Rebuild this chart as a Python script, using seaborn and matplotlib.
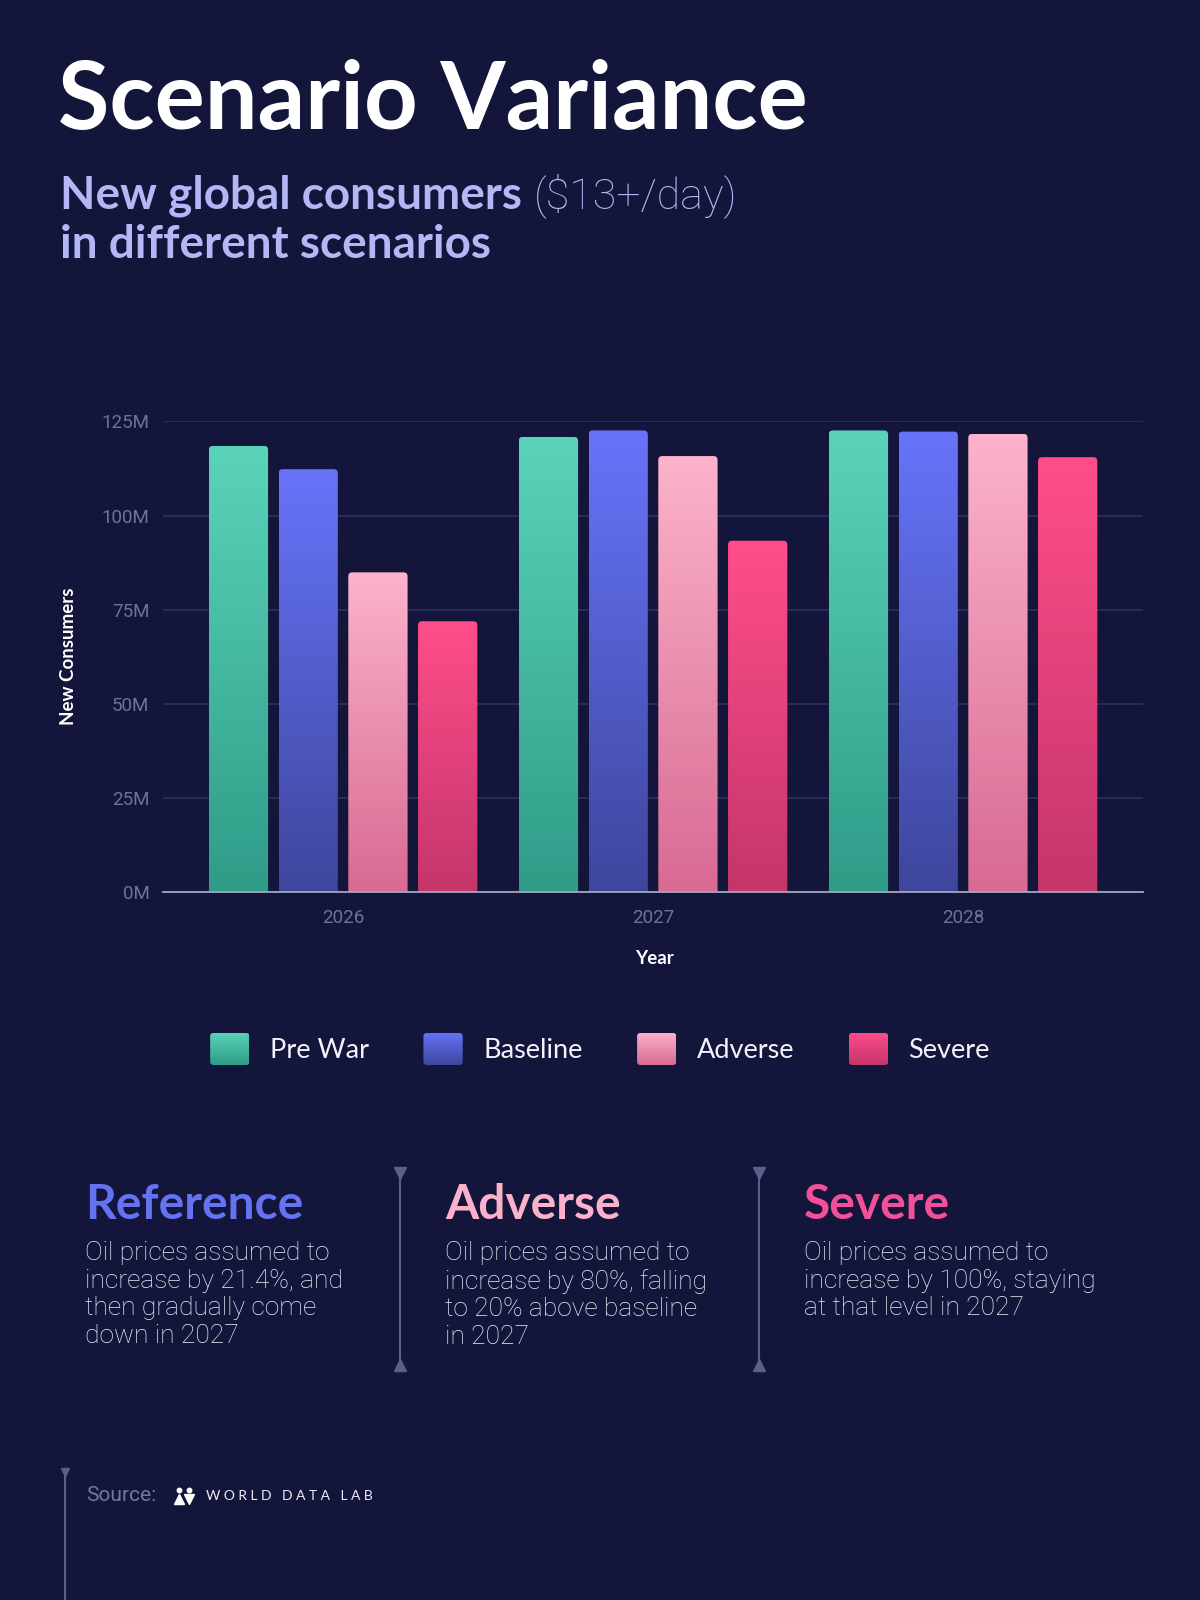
import numpy as np
import pandas as pd
import seaborn as sns
import matplotlib.pyplot as plt
from matplotlib.patches import FancyBboxPatch, Patch
from matplotlib.lines import Line2D
from matplotlib.colors import to_rgb

years = ['2026', '2027', '2028']
scenarios = ['Pre War', 'Baseline', 'Adverse', 'Severe']
pre_war = [118.5, 120.9, 122.6]
baseline = [112.3, 122.6, 122.3]
adverse = [84.9, 115.8, 121.7]
severe = [71.9, 93.3, 115.5]
y_ticks = [0, 25, 50, 75, 100, 125]

top_colors = ['#5BD3BA', '#6774FA', '#FCB3CB', '#FF4D8B']
bottom_colors = ['#2F9C88', '#3E469C', '#D86A93', '#C4366A']
mid_colors = ['#46B8A1', '#535DCB', '#EA90B0', '#E2427A']

BG = '#13163A'
GRID = '#2C3060'
TICK = '#6E7299'
SEP = '#5B5F8A'
LIGHT = ['Roboto', 'Lato', 'DejaVu Sans']

# layout was measured on a 1176 x 1568 view of the reference
W, H = 1176, 1568


def fx(x):
    return x / W


def fy(y):
    return 1 - y / H


df = pd.DataFrame({
    'Year': np.repeat(years, 4),
    'Scenario': scenarios * 3,
    'Consumers': [v for trio in zip(pre_war, baseline, adverse, severe) for v in trio],
})

sns.set_style('dark')
plt.rcParams['font.family'] = ['Lato', 'DejaVu Sans']

fig = plt.figure(figsize=(12, 16), dpi=100)
fig.patch.set_facecolor(BG)
ax = fig.add_axes([fx(160), fy(874), 960 / W, 461 / H])
ax.set_facecolor(BG)

sns.barplot(data=df, x='Year', y='Consumers', hue='Scenario', hue_order=scenarios,
            palette=mid_colors, width=0.9, gap=0.15, saturation=1, legend=False, ax=ax)


def gradient(top, bottom, n=256):
    t = np.linspace(0, 1, n)[:, None]
    c1, c2 = np.array(to_rgb(top)), np.array(to_rgb(bottom))
    return (c1 * (1 - t) + c2 * t)[:, None, :]


# swap the flat bars for vertical gradients with rounded tops
for bar in list(ax.patches):
    x0, w, h = bar.get_x(), bar.get_width(), bar.get_height()
    cx = x0 + w / 2
    k = int(round((cx - round(cx) + 0.3375) / 0.225))
    bar.set_visible(False)
    img = ax.imshow(gradient(top_colors[k], bottom_colors[k]), extent=[x0, x0 + w, 0, h],
                    aspect='auto', origin='upper', zorder=3, interpolation='bilinear')
    clip = FancyBboxPatch((x0, -4), w, h + 4, boxstyle='round,pad=0,rounding_size=0.013',
                          mutation_aspect=82, transform=ax.transData, facecolor='none',
                          edgecolor='none')
    ax.add_patch(clip)
    img.set_clip_path(clip)

ax.set_xlim(-0.58, 2.58)
ax.set_ylim(0, 125)
ax.set_yticks(y_ticks)
ax.set_yticklabels([f'{v}M' for v in y_ticks])
ax.grid(axis='y', color=GRID, linewidth=1.2)
ax.grid(axis='x', visible=False)
ax.set_axisbelow(True)
for s in ['top', 'left', 'right']:
    ax.spines[s].set_visible(False)
ax.spines['bottom'].set_color('#A3A6C2')
ax.spines['bottom'].set_linewidth(1.3)
ax.spines['bottom'].set_zorder(5)
ax.tick_params(axis='both', length=0, colors=TICK, labelsize=13.5)
ax.tick_params(axis='y', pad=10)
ax.tick_params(axis='x', pad=12)
for lab in ax.get_xticklabels() + ax.get_yticklabels():
    lab.set_family(LIGHT)
ax.set_xlabel('Year', color='white', fontsize=13.5, fontweight='bold')
ax.set_ylabel('New Consumers', color='white', fontsize=13.5, fontweight='bold')
ax.xaxis.set_label_coords(0.501, -0.124)
ax.yaxis.set_label_coords(-0.088, 0.5)

# legend
handles = [Patch(facecolor=c, edgecolor='none') for c in mid_colors]
leg = fig.legend(handles, scenarios, loc='center', bbox_to_anchor=(fx(588), fy(1028)),
                 ncol=4, frameon=False, fontsize=19.5, handlelength=1.45, handleheight=1.45,
                 handletextpad=0.75, columnspacing=2.02, labelcolor='#F2F2FA')

# titles
fig.text(fx(57), fy(100), 'Scenario Variance', color='white', fontsize=67.5,
         fontweight='bold', va='center', ha='left')
sub_color = '#B4B7F6'
t1 = fig.text(fx(59), fy(192), 'New global consumers', color=sub_color,
              fontsize=33, fontweight='bold', va='center', ha='left')
fig.text(fx(59), fy(240), 'in different scenarios', color=sub_color,
         fontsize=33, fontweight='bold', va='center', ha='left')

fig.canvas.draw()
r = fig.canvas.get_renderer()
bb = t1.get_window_extent(r)
fig.text((bb.x1 + 12) / 1200, fy(192), '($13+/day)', color=sub_color,
         fontsize=31, fontweight='light', family=LIGHT, va='center', ha='left')

# gradient squares over the legend handles
for k, patch in enumerate(leg.get_patches()):
    pb = patch.get_window_extent(r)
    hax = fig.add_axes([pb.x0 / 1200, pb.y0 / 1600, pb.width / 1200, pb.height / 1600])
    hax.set_axis_off()
    im = hax.imshow(gradient(top_colors[k], bottom_colors[k]), extent=[0, 1, 0, 1],
                    aspect='auto', origin='upper')
    hclip = FancyBboxPatch((0, 0), 1, 1, boxstyle='round,pad=0,rounding_size=0.1',
                           transform=hax.transAxes, facecolor='none', edgecolor='none')
    hax.add_patch(hclip)
    im.set_clip_path(hclip)
    hax.set_xlim(0, 1)
    hax.set_ylim(0, 1)
    patch.set_alpha(0)

# scenario notes
notes = [
    ('Reference', '#6572F2', 'Oil prices assumed to\nincrease by 21.4%, and\nthen gradually come\ndown in 2027'),
    ('Adverse', '#FBB1CB', 'Oil prices assumed to\nincrease by 80%, falling\nto 20% above baseline\nin 2027'),
    ('Severe', '#F2519A', 'Oil prices assumed to\nincrease by 100%, staying\nat that level in 2027'),
]
for (head, col, body), x in zip(notes, [83, 436, 788]):
    fig.text(fx(x), fy(1181), head, color=col, fontsize=34.5, fontweight='bold',
             va='center', ha='left')
    fig.text(fx(x), fy(1216), body, color='#ECEDF7', fontsize=19, fontweight='light',
             family=LIGHT, va='top', ha='left', linespacing=1.2)

for x in [392, 744]:
    fig.add_artist(Line2D([fx(x), fx(x)], [fy(1148), fy(1340)],
                          color=SEP, lw=1.5, transform=fig.transFigure))
    fig.add_artist(Line2D([fx(x)], [fy(1150)], marker='v', markersize=8, color=SEP,
                          lw=0, transform=fig.transFigure))
    fig.add_artist(Line2D([fx(x)], [fy(1338)], marker='^', markersize=8, color=SEP,
                          lw=0, transform=fig.transFigure))

fig.add_artist(Line2D([fx(64), fx(64)], [fy(1442), 0], color=SEP, lw=1.5,
                      transform=fig.transFigure))
fig.add_artist(Line2D([fx(64)], [fy(1443)], marker='v', markersize=6, color=SEP,
                      lw=0, transform=fig.transFigure))

# source line
fig.text(fx(84), fy(1466), 'Source:', color='#7276A0', fontsize=15, family=LIGHT,
         va='center', ha='left')
for lx, mk in [(175, '^'), (185, 'v')]:
    fig.add_artist(Line2D([fx(lx)], [fy(1469)], marker=mk, markersize=7.5, color='white',
                          lw=0, transform=fig.transFigure))
    fig.add_artist(Line2D([fx(lx)], [fy(1460)], marker='o', markersize=3.2, color='white',
                          lw=0, transform=fig.transFigure))
fig.text(fx(202), fy(1466), 'W O R L D   D A T A   L A B', color='#ECECF7',
         fontsize=10, va='center', ha='left')

fig.savefig('out.png', dpi=100, facecolor=BG)
